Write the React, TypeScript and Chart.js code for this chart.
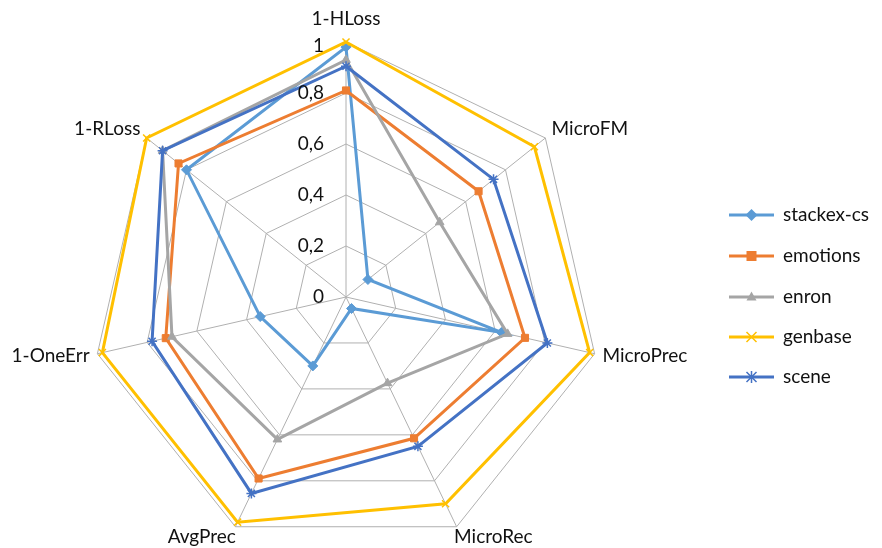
import React, { useEffect, useRef } from "react";
import { Chart, registerables } from "chart.js";

Chart.register(...registerables);

const categories = ["1-HLoss", "MicroFM", "MicroPrec", "MicroRec", "AvgPrec", "1-OneErr", "1-RLoss"];
const tickLabels = ["0", "0,2", "0,4", "0,6", "0,8", "1"];

const seriesNames = ["stackex-cs", "emotions", "enron", "genbase", "scene"];
const stackexCs = [0.98, 0.11, 0.625, 0.05, 0.3, 0.345, 0.8];
const emotions = [0.81, 0.665, 0.72, 0.615, 0.79, 0.725, 0.84];
const enron = [0.93, 0.47, 0.65, 0.375, 0.62, 0.7, 0.92];
const genbase = [1.0, 0.945, 0.98, 0.9, 0.98, 0.98, 1.0];
const scene = [0.905, 0.74, 0.81, 0.65, 0.855, 0.78, 0.92];

const seriesValues = [stackexCs, emotions, enron, genbase, scene];
const colors = ["#5B9BD5", "#ED7D31", "#A5A5A5", "#FFC000", "#4472C4"];
const markers = ["rectRot", "rect", "triangle", "crossRot", "star"];
const markerSizes = [5, 5, 5, 5, 5];

const FONT = "Lato, 'Open Sans', sans-serif";
const TEXT_COLOR = "#111111";

function drawMarker(ctx: CanvasRenderingContext2D, style: string, x: number, y: number, r: number, color: string) {
  ctx.save();
  ctx.fillStyle = color;
  ctx.strokeStyle = color;
  ctx.lineWidth = 1.5;
  ctx.beginPath();
  if (style === "rectRot") {
    ctx.moveTo(x, y - r * 1.2);
    ctx.lineTo(x + r * 1.2, y);
    ctx.lineTo(x, y + r * 1.2);
    ctx.lineTo(x - r * 1.2, y);
    ctx.closePath();
    ctx.fill();
  } else if (style === "rect") {
    ctx.rect(x - r, y - r, 2 * r, 2 * r);
    ctx.fill();
  } else if (style === "triangle") {
    ctx.moveTo(x, y - r * 1.1);
    ctx.lineTo(x + r, y + r * 0.7);
    ctx.lineTo(x - r, y + r * 0.7);
    ctx.closePath();
    ctx.fill();
  } else if (style === "crossRot") {
    ctx.moveTo(x - r, y - r);
    ctx.lineTo(x + r, y + r);
    ctx.moveTo(x + r, y - r);
    ctx.lineTo(x - r, y + r);
    ctx.stroke();
  } else {
    ctx.moveTo(x - r, y - r);
    ctx.lineTo(x + r, y + r);
    ctx.moveTo(x + r, y - r);
    ctx.lineTo(x - r, y + r);
    ctx.moveTo(x, y - r * 1.2);
    ctx.lineTo(x, y + r * 1.2);
    ctx.stroke();
  }
  ctx.restore();
}

const overlayPlugin = {
  id: "overlay",
  afterDraw(chart: any) {
    const ctx = chart.ctx;
    const scale = chart.scales.r;
    ctx.save();
    ctx.fillStyle = TEXT_COLOR;
    ctx.font = `19px ${FONT}`;
    // tick labels to the left of the vertical axis
    ctx.textAlign = "right";
    ctx.textBaseline = "middle";
    scale.ticks.forEach((t: any, i: number) => {
      const d = scale.getDistanceFromCenterForValue(t.value);
      const y = scale.yCenter - d + (i === scale.ticks.length - 1 ? 4 : 0);
      ctx.fillText(tickLabels[i], scale.xCenter - 22, y);
    });
    // point labels
    const R = scale.drawingArea;
    categories.forEach((label, i) => {
      const p = scale.getPointPosition(i, R + 8);
      const dx = p.x - scale.xCenter;
      const dy = p.y - scale.yCenter;
      let align: CanvasTextAlign = "center";
      if (dx > 5) align = "left";
      else if (dx < -5) align = "right";
      let y = p.y;
      let x = p.x;
      if (i === 0) y = p.y - 15;
      else if (dy > R * 0.8) { y = p.y + 3; x = dx > 0 ? p.x - 6 : p.x + 4; }
      else if (i === 1 || i === 6) y = p.y - 4;
      ctx.textAlign = align;
      ctx.fillText(label, x, y);
    });
    // legend
    const lx0 = 729, lx1 = 774, tx = 783;
    const ys = [215, 256, 297, 337, 377];
    seriesNames.forEach((name, i) => {
      const y = ys[i];
      ctx.strokeStyle = colors[i];
      ctx.lineWidth = 3;
      ctx.beginPath();
      ctx.moveTo(lx0, y);
      ctx.lineTo(lx1, y);
      ctx.stroke();
      drawMarker(ctx, markers[i], (lx0 + lx1) / 2, y, markerSizes[i], colors[i]);
      ctx.fillStyle = TEXT_COLOR;
      ctx.textAlign = "left";
      ctx.textBaseline = "middle";
      ctx.fillText(name, tx, y);
    });
    ctx.restore();
  },
};

export default function App() {
  const ref = useRef<HTMLCanvasElement | null>(null);
  useEffect(() => {
    if (!ref.current) return;
    const chart = new Chart(ref.current, {
      type: "radar",
      data: {
        labels: categories,
        datasets: seriesNames.map((name, i) => ({
          label: name,
          data: seriesValues[i],
          borderColor: colors[i],
          backgroundColor: colors[i],
          borderWidth: 3,
          fill: false,
          pointStyle: markers[i] as any,
          pointRadius: markerSizes[i],
          pointBorderWidth: i >= 3 ? 1.5 : 1,
          pointBorderColor: colors[i],
          pointBackgroundColor: colors[i],
          order: seriesNames.length - i,
        })),
      },
      options: {
        responsive: false,
        animation: false,
        events: [],
        layout: { padding: 0 },
        plugins: { legend: { display: false }, tooltip: { enabled: false } },
        elements: { line: { tension: 0 } },
        scales: {
          r: {
            min: 0,
            max: 1,
            ticks: { stepSize: 0.2, display: false },
            grid: { color: "#B0B0B0", lineWidth: 1 },
            angleLines: { color: "#B0B0B0", lineWidth: 1 },
            pointLabels: { display: false },
            afterFit: (scale: any) => {
              scale.xCenter = 346;
              scale.yCenter = 297;
              scale.drawingArea = 255;
            },
          } as any,
        },
      },
      plugins: [overlayPlugin],
    });
    return () => chart.destroy();
  }, []);
  return (
    <div style={{ position: "fixed", left: 0, top: 0, width: 882, height: 548, background: "#fff" }}>
      <canvas ref={ref} width={882} height={548} style={{ display: "block" }} />
    </div>
  );
}
